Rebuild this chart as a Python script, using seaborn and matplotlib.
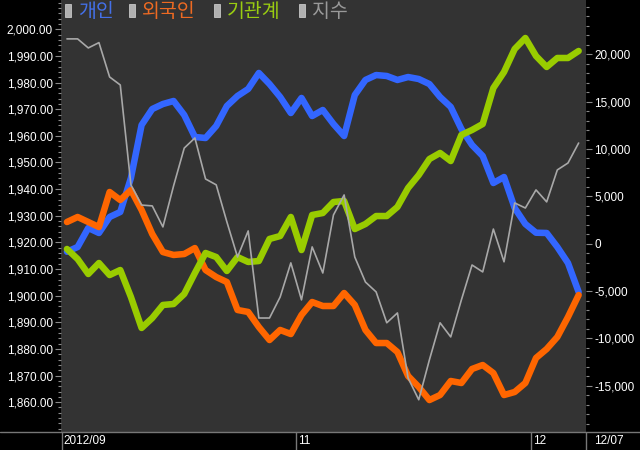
import pandas as pd
import seaborn as sns
import matplotlib.pyplot as plt
from matplotlib.lines import Line2D
from matplotlib.patches import Rectangle
from matplotlib.ticker import FixedLocator, MultipleLocator, FuncFormatter

# KOSPI index (left axis), one value per trading day, 2012-09-28 .. 2012-12-07
kospi = [1996.4, 1996.4, 1993.0, 1995.0, 1982.1, 1979.1, 1941.6, 1934.0, 1933.7, 1925.8,
         1941.2, 1955.4, 1959.2, 1943.8, 1941.6, 1927.7, 1914.5, 1924.3, 1891.6, 1891.6,
         1899.5, 1912.3, 1898.4, 1918.3, 1908.5, 1930.3, 1937.8, 1914.5, 1905.1, 1901.4,
         1889.8, 1893.5, 1869.1, 1860.9, 1875.9, 1889.8, 1884.5, 1898.4, 1911.5, 1908.9,
         1925.0, 1912.7, 1934.8, 1932.9, 1939.7, 1935.2, 1947.2, 1949.8, 1957.3]

# cumulative net buying (right axis)
retail = [-850, -350, 1660, 1130, 2820, 3350, 6940, 12530, 14220, 14750,
          15070, 13590, 11270, 11160, 12430, 14540, 15600, 16340, 18030, 16860,
          15490, 13800, 15390, 13480, 14120, 12640, 11370, 15700, 17290, 17810,
          17710, 17290, 17600, 17390, 16860, 15490, 14440, 12110, 10420, 9260,
          6410, 7040, 3770, 2080, 1160, 1130, -350, -2040, -5100]
foreign = [2290, 2820, 2290, 1760, 5460, 4610, 5670, 3560, 1020, -880,
           -1190, -1090, -460, -2780, -3520, -4050, -7000, -7210, -8800, -10170,
           -9110, -9540, -7530, -6160, -6580, -6580, -5210, -6470, -9110, -10490,
           -10490, -11440, -13970, -15130, -16510, -15980, -14500, -14710, -13230, -12810,
           -13660, -15980, -15660, -14710, -12070, -11120, -9850, -7740, -5420]
institution = [-560, -1620, -3200, -2040, -3310, -2780, -5630, -8900, -7850, -6470,
               -6370, -5310, -3100, -980, -1410, -2880, -1410, -1930, -1830, 500,
               810, 2820, -670, 3030, 3240, 4400, 4510, 1550, 2080, 2920,
               2920, 3880, 5880, 7250, 8940, 9580, 8730, 11480, 12010, 12640,
               16440, 18130, 20560, 21720, 19820, 18660, 19610, 19610, 20350]

investors = ["개인", "외국인", "기관계"]
index_name = "지수"
month_labels = ["2012/09", "11", "12"]
month_breaks = [-0.5, 21.5, 43.5]   # between trading days
last_label = "12/07"
left_ticks = list(range(1860, 2001, 10))
right_ticks = list(range(-15000, 20001, 5000))

line_colors = ["#3366ff", "#ff6600", "#99cc00"]
index_color = "#a8a8a8"

W, H = 640, 450


def fx(px):
    return px / W


def fy(py):
    return 1 - py / H


sns.set_style("ticks")
plt.rcParams['font.family'] = ['Liberation Sans', 'Noto Sans CJK KR', 'DejaVu Sans']

fig = plt.figure(figsize=(6.4, 4.5), dpi=100, facecolor='black')
ax = fig.add_axes([fx(61), fy(432), 525 / W, 432 / H])
ax.set_facecolor('#333333')

days = list(range(len(kospi)))
flows = pd.DataFrame({'day': days, investors[0]: retail,
                      investors[1]: foreign, investors[2]: institution})
flows = flows.melt(id_vars='day', var_name='who', value_name='net')
sns.lineplot(data=flows, x='day', y='net', hue='who', hue_order=investors,
             palette=dict(zip(investors, line_colors)), linewidth=4.7,
             legend=False, ax=ax)

ax2 = ax.twinx()
sns.lineplot(x=days, y=kospi, color=index_color, linewidth=1.2, ax=ax2)

# axes ranges
ax.set_xlim(-0.56, 48.69)
ax.set_ylim(-19885, 25734)
ax2.set_ylim(1848.8, 2011.0)

# right axis: net buying, left axis: index
ax.yaxis.tick_right()
ax2.yaxis.tick_left()
ax.yaxis.set_major_locator(FixedLocator(right_ticks))
ax.yaxis.set_minor_locator(MultipleLocator(1000))
ax.yaxis.set_major_formatter(FuncFormatter(lambda v, _: f"{int(v):,}"))
ax2.yaxis.set_major_locator(FixedLocator(left_ticks))
ax2.yaxis.set_minor_locator(MultipleLocator(2))
ax2.yaxis.set_major_formatter(FuncFormatter(lambda v, _: f"{v:,.2f}"))

for a in (ax, ax2):
    a.tick_params(axis='y', which='major', length=4.3, width=0.8, color='#8a8a8a',
                  labelcolor='white', labelsize=8.5, pad=1.5)
    a.tick_params(axis='y', which='minor', length=2.2, width=0.8, color='#8a8a8a')
    a.set_ylabel('')
    a.grid(False)
    for s in a.spines.values():
        s.set_visible(False)

ax.set_xlabel('')
ax.set_xticks(month_breaks + [48.69])
ax.tick_params(axis='x', length=13, width=1, color='#777777', labelbottom=False)
for x, lab in zip(month_breaks, month_labels):
    ax.annotate(lab, xy=(x, 0), xycoords=('data', 'axes fraction'), xytext=(1.5, -2.5),
                textcoords='offset points', ha='left', va='top', color='white', fontsize=8.5)
ax.annotate(last_label, xy=(1, 0), xycoords='axes fraction', xytext=(6, -2.5),
            textcoords='offset points', ha='left', va='top', color='white', fontsize=8.5)

fig.add_artist(Line2D([0, 1], [fy(432), fy(432)], transform=fig.transFigure,
                      color='#777777', lw=1))

# legend strip on top
box_x = [65, 129, 214, 299]
text_x = [78, 142, 227, 312]
names = investors + [index_name]
colors = ["#4470e8", "#ee6a22", "#99cc11", "#999999"]
for bx, tx, name, c in zip(box_x, text_x, names, colors):
    fig.add_artist(Rectangle((fx(bx), fy(17)), 6 / W, 13 / H, transform=fig.transFigure,
                             facecolor='#b0b0b0', edgecolor='#d8d8d8', lw=0.5))
    fig.text(fx(tx), fy(11.5), name, color=c, fontsize=14, va='center', ha='left',
             fontweight='light', family=['Noto Sans CJK KR', 'DejaVu Sans'])

fig.savefig('out.png', dpi=100, facecolor='black')
